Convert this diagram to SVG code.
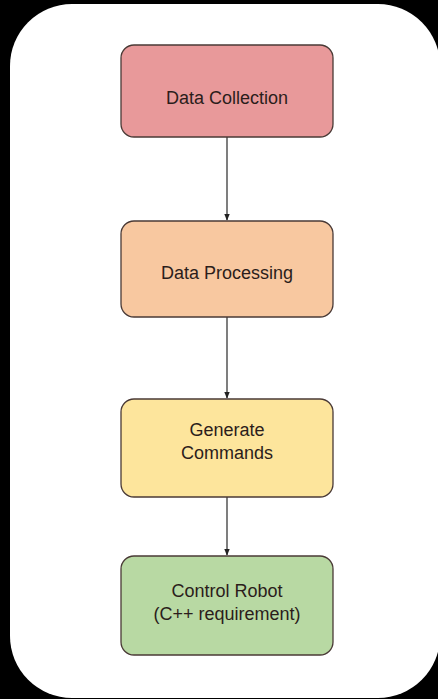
<svg xmlns="http://www.w3.org/2000/svg" width="438" height="699" viewBox="0 0 438 699">
  <defs>
    <style>
      .node rect { stroke: #4a3a36; stroke-width: 1.3; }
      .node text { font-family: "Liberation Sans", Arial, sans-serif; font-size: 18px; fill: #2b1d1b; text-anchor: middle; }
      .edge { stroke: #3a3a3a; stroke-width: 1.3; fill: none; }
    </style>
    <marker id="arrow" viewBox="0 0 10 10" refX="9" refY="5" markerWidth="7" markerHeight="7" markerUnits="userSpaceOnUse" orient="auto">
      <path d="M0,1 L10,5 L0,9 z" fill="#222"/>
    </marker>
  </defs>

  <!-- backdrop and card -->
  <rect x="0" y="0" width="438" height="699" fill="#000"/>
  <rect x="10" y="4" width="430" height="694" rx="62" ry="62" fill="#fff"/>

  <!-- connectors -->
  <g id="connectors">
    <line class="edge" x1="227" y1="137" x2="227" y2="220" marker-end="url(#arrow)"/>
    <line class="edge" x1="227" y1="317" x2="227" y2="398" marker-end="url(#arrow)"/>
    <line class="edge" x1="227" y1="497" x2="227" y2="555" marker-end="url(#arrow)"/>
  </g>

  <g id="data-collection" class="node">
    <rect x="121" y="45" width="212" height="92" rx="13" fill="#e8999a"/>
    <text x="227" y="104">Data Collection</text>
  </g>

  <g id="data-processing" class="node">
    <rect x="121" y="221" width="212" height="96" rx="13" fill="#f8c8a0"/>
    <text x="227" y="279">Data Processing</text>
  </g>

  <g id="generate-commands" class="node">
    <rect x="121" y="399" width="212" height="98" rx="13" fill="#fde59c"/>
    <text x="227" y="436">Generate</text>
    <text x="227" y="459">Commands</text>
  </g>

  <g id="control-robot" class="node">
    <rect x="121" y="556" width="212" height="99" rx="13" fill="#b8d9a3"/>
    <text x="227" y="597">Control Robot</text>
    <text x="227" y="620">(C++ requirement)</text>
  </g>
</svg>
